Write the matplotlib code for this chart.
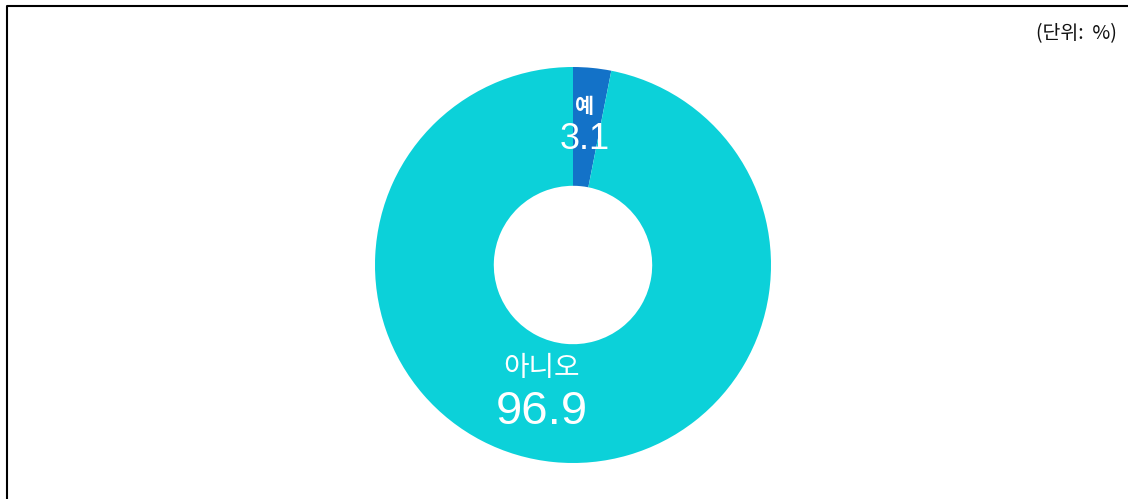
import matplotlib
matplotlib.use('Agg')
import matplotlib.pyplot as plt
from matplotlib.lines import Line2D

plt.rcParams['font.family'] = ['Noto Sans CJK KR', 'DejaVu Sans']

# --- data ---
labels = ['예', '아니오']
values = [3.1, 96.9]
colors = ['#1372C8', '#0CD1D9']
unit_text = '(단위:  %)'

W, H = 1128, 499
fig = plt.figure(figsize=(W / 100, H / 100), dpi=100)

# donut axes: centre (573, 265), outer radius 198 px
cx, cy, r = 573, 265, 198
ax = fig.add_axes([(cx - r) / W, (H - cy - r) / H, 2 * r / W, 2 * r / H])
ax.pie(values, colors=colors, startangle=90, counterclock=False,
       radius=1, wedgeprops=dict(width=0.6, edgecolor='none'))
ax.set_xlim(-1, 1)
ax.set_ylim(-1, 1)
ax.set_aspect('equal')
ax.axis('off')

# labels (name + value)
lab_pos = [(0.06, 0.8, 0.635), (-0.157, -0.52, -0.74)]
name_sizes = [15, 20]
name_weights = ['bold', 'normal']
val_sizes = [26, 34]
for lab, v, (x, yn, yv), ns, nw, vs in zip(labels, values, lab_pos, name_sizes,
                                           name_weights, val_sizes):
    ax.text(x, yn, lab, ha='center', va='center', color='white',
            fontsize=ns, fontweight=nw)
    ax.text(x, yv, f'{v:.1f}', ha='center', va='center', color='white',
            fontsize=vs, family=['Liberation Sans', 'DejaVu Sans'])

fig.text(1117 / W, 1 - 34 / H, unit_text, ha='right', va='center',
         fontsize=14, color='#111111')

# frame lines (left and top)
x0, y0 = 6.5 / W, 1 - 5.5 / H
fig.add_artist(Line2D([x0, x0, 1], [0, y0, y0], transform=fig.transFigure,
                      color='black', linewidth=1.5))

plt.savefig('out.png', dpi=100)
